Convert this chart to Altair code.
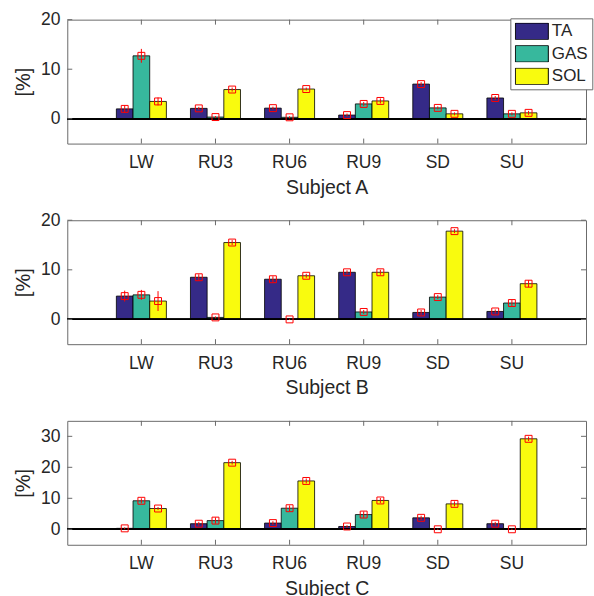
import altair as alt
import pandas as pd

categories = ["LW", "RU3", "RU6", "RU9", "SD", "SU"]
muscles = ["TA", "GAS", "SOL"]
colors = ["#352a87", "#37b89d", "#f9fb0e"]

# Subject A
A_TA = [2.0, 2.1, 2.15, 0.75, 7.0, 4.2]
A_GAS = [12.7, 0.35, 0.3, 3.0, 2.2, 1.0]
A_SOL = [3.5, 5.9, 6.0, 3.6, 1.0, 1.2]
A_TA_err = [0.7, 0.3, 0.3, 0.3, 0.4, 0.4]
A_GAS_err = [1.4, 0.2, 0.2, 0.4, 0.3, 0.3]
A_SOL_err = [0.8, 0.4, 0.3, 0.5, 0.3, 0.4]

# Subject B
B_TA = [4.7, 8.5, 8.1, 9.5, 1.4, 1.6]
B_GAS = [4.95, 0.4, 0.0, 1.5, 4.5, 3.3]
B_SOL = [3.7, 15.5, 8.8, 9.5, 17.8, 7.2]
B_TA_err = [1.1, 0.6, 0.6, 0.4, 0.5, 0.4]
B_GAS_err = [1.0, 0.2, 0.1, 0.4, 0.4, 0.6]
B_SOL_err = [2.0, 0.5, 0.4, 0.5, 0.4, 0.7]

# Subject C
C_TA = [0.3, 1.8, 2.0, 0.9, 3.7, 1.8]
C_GAS = [9.2, 2.8, 6.8, 4.75, 0.0, 0.0]
C_SOL = [6.7, 21.5, 15.6, 9.3, 8.2, 29.2]
C_TA_err = [0.3, 0.6, 0.6, 0.4, 0.7, 0.6]
C_GAS_err = [0.8, 1.0, 0.9, 1.0, 0.2, 0.2]
C_SOL_err = [0.5, 0.6, 0.8, 0.8, 0.8, 0.7]

y_ticks_AB = [0, 10, 20]
y_ticks_C = [0, 10, 20, 30]

FONT = "Liberation Sans"
TXT = "#262626"
BOX = "#6a6a6a"
W, H = 519, 124


def build(vals, errs):
    rows = []
    for m, v, e in zip(muscles, vals, errs):
        for c, vi, ei in zip(categories, v, e):
            rows.append({"cat": c, "muscle": m, "value": vi, "lo": vi - ei, "hi": vi + ei})
    return pd.DataFrame(rows)


dfA = build([A_TA, A_GAS, A_SOL], [A_TA_err, A_GAS_err, A_SOL_err])
dfB = build([B_TA, B_GAS, B_SOL], [B_TA_err, B_GAS_err, B_SOL_err])
dfC = build([C_TA, C_GAS, C_SOL], [C_TA_err, C_GAS_err, C_SOL_err])


def panel(df, subject, ymax, yticks, legend):
    xaxis = alt.Axis(title=f"Subject {subject}", labelAngle=0, ticks=False, tickSize=0,
                     domain=False, grid=False, labelPadding=10, titlePadding=7,
                     labelFontSize=17.5, titleFontSize=19.5, titleFontWeight="normal",
                     labelFont=FONT, titleFont=FONT, labelColor=TXT, titleColor=TXT)
    yaxis = alt.Axis(title="[%]", values=yticks, ticks=False, tickSize=0, domain=False,
                     grid=False, labelPadding=7.4, titlePadding=6.5,
                     labelFontSize=17.5, titleFontSize=20, titleFontWeight="normal",
                     labelFont=FONT, titleFont=FONT, labelColor=TXT, titleColor=TXT)
    xs = alt.Scale(paddingInner=0.325, paddingOuter=0.6625)
    ys = alt.Scale(domain=[-5, ymax], nice=False, zero=False)
    x = alt.X("cat:N", sort=categories, scale=xs, axis=xaxis)
    xo = alt.XOffset("muscle:N", sort=muscles, scale=alt.Scale(paddingInner=0, paddingOuter=0))

    base = alt.Chart(df)
    bars = base.mark_bar(stroke="black", strokeWidth=0.8, opacity=1).encode(
        x=x, xOffset=xo,
        y=alt.Y("value:Q", scale=ys, axis=yaxis),
        y2=alt.datum(0),
        color=alt.Color("muscle:N", sort=muscles,
                        scale=alt.Scale(domain=muscles, range=colors),
                        legend=legend),
    )
    zero = alt.Chart(df).mark_rule(color="black", strokeWidth=1).encode(
        y=alt.Y(datum=0)
    )
    errs = base.mark_rule(color="#ff0000", strokeWidth=1).encode(
        x=x, xOffset=xo,
        y=alt.Y("lo:Q", scale=ys, axis=yaxis), y2="hi:Q",
    )
    pts = base.mark_point(shape="square", size=48, color="#ff0000", filled=False,
                          strokeWidth=1, opacity=1).encode(
        x=x, xOffset=xo, y=alt.Y("value:Q", scale=ys, axis=yaxis),
    )
    cat_df = pd.DataFrame({"cat": categories})
    xt_bot = alt.Chart(cat_df).mark_rule(color=BOX, strokeWidth=1).encode(
        x=x, y=alt.value(H), y2=alt.value(H - 5))
    xt_top = alt.Chart(cat_df).mark_rule(color=BOX, strokeWidth=1).encode(
        x=x, y=alt.value(0), y2=alt.value(5))
    yt_df = pd.DataFrame({"value": yticks})
    yt_left = alt.Chart(yt_df).mark_rule(color=BOX, strokeWidth=1).encode(
        y=alt.Y("value:Q", scale=ys, axis=yaxis), x=alt.value(0), x2=alt.value(5))
    yt_right = alt.Chart(yt_df).mark_rule(color=BOX, strokeWidth=1).encode(
        y=alt.Y("value:Q", scale=ys, axis=yaxis), x=alt.value(W - 5), x2=alt.value(W))
    return alt.layer(bars, zero, errs, pts, xt_bot, xt_top, yt_left, yt_right).properties(
        width=W, height=H)


legA = alt.Legend(orient="none", legendX=443.3, legendY=-1.3, title=None,
                  symbolType="M-1,-0.5H1V0.5H-1Z", symbolSize=1089,
                  symbolStrokeColor="black", symbolStrokeWidth=1, symbolOpacity=1,
                  clipHeight=17, rowPadding=4.5, labelFontSize=17, labelFont=FONT,
                  labelColor=TXT, labelOffset=3, padding=4.5,
                  fillColor="white", strokeColor=BOX)

pA = panel(dfA, "A", 20, y_ticks_AB, legA)
pB = panel(dfB, "B", 20, y_ticks_AB, None)
pC = panel(dfC, "C", 35, y_ticks_C, None)

chart = alt.vconcat(pA, pB, pC, spacing=76.7, bounds="flush").resolve_scale(
    y="independent", color="independent"
).properties(
    padding={"left": 13.3, "top": 9.5, "right": 0, "bottom": 0}
).configure(
    background="white"
).configure_view(
    stroke=BOX, strokeWidth=1
).configure_axis(
    labelFont=FONT, titleFont=FONT, labelColor=TXT, titleColor=TXT, titleFontWeight="normal"
)

chart.save("out.html", embed_options={"renderer": "svg", "actions": False})
